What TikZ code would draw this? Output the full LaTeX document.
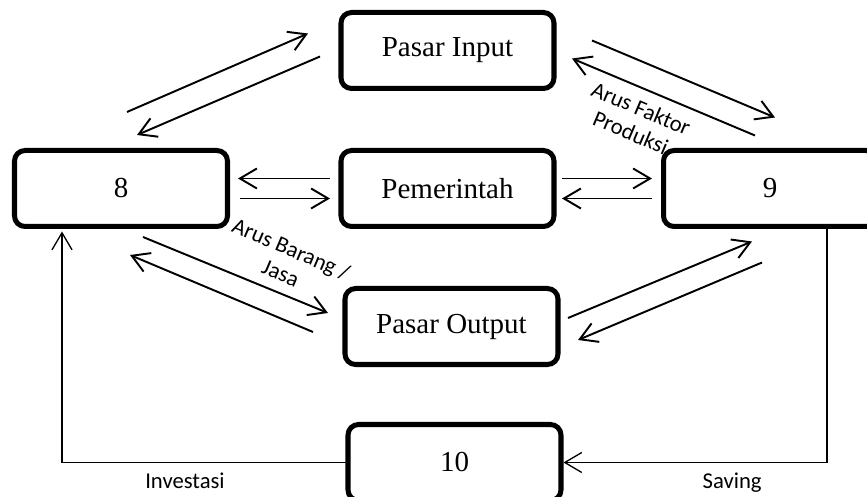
\documentclass[tikz,border=0pt]{standalone}
\usepackage{fontspec}
\setmainfont{Liberation Serif}
\newfontfamily\lblfont{Carlito}
\usepackage{tikz}
\usetikzlibrary{arrows.meta, positioning, calc}
\definecolor{mydark}{RGB}{0,0,0}
\tikzset{
  sector/.style={rectangle, draw=mydark, line width=2.85pt, rounded corners=6pt,
    minimum width=4.26cm, minimum height=1.52cm, inner sep=0pt, outer sep=0pt,
    font=\fontsize{16.5}{20}\selectfont},
  arrow/.style={-{Straight Barb[length=0.34cm, width=0.4cm]}, line width=1.1pt, color=mydark},
  flow/.style={-{Straight Barb[length=0.34cm, width=0.4cm]}, line width=0.75pt, color=mydark},
  lbl/.style={font=\lblfont\fontsize{12.9}{15}\selectfont, align=center, inner sep=1pt}
}

\begin{document}
\begin{tikzpicture}
  \useasboundingbox (0,0) rectangle (17.34,-9.94);

  % --- Sektor ---
  \node[sector] (n8) at (2.42,-3.77) {8};
  \node[sector, right=2.27cm of n8] (pem) {Pemerintah};
  \node[sector, right=2.19cm of pem] (n9) {9};
  \node[sector, above=1.24cm of pem] (pi) {Pasar Input};
  \node[sector, below=1.24cm of pem, xshift=0.08cm] (po) {Pasar Output};
  \node[sector, below=1.2cm of po, xshift=0.06cm] (n10) {10};

  % --- Pasar Input ---
  \draw[arrow] ([shift={(0.12,0.77)}]n8.north) -- ([shift={(-0.66,0.34)}]pi.west);
  \draw[arrow] ([shift={(-0.42,-0.12)}]pi.west) -- ([shift={(0.32,0.31)}]n8.north);
  \draw[arrow] ([shift={(0.76,0.2)}]pi.east) -- ([shift={(0.1,0.66)}]n9.north);
  \draw[arrow] ([shift={(-0.3,0.3)}]n9.north) -- ([shift={(0.36,-0.16)}]pi.east);
  \node[lbl, rotate=-23] (lblfaktor) at ([shift={(1.64,-1.4)}]pi.east) {Arus Faktor\\Produksi};

  % --- Pemerintah ---
  \draw[arrow] ([shift={(-0.22,0.2)}]pem.west) -- ([shift={(0.21,0.2)}]n8.east);
  \draw[arrow] ([shift={(0.25,-0.2)}]n8.east) -- ([shift={(-0.22,-0.2)}]pem.west);
  \draw[arrow] ([shift={(0.16,0.2)}]pem.east) -- ([shift={(-0.23,0.2)}]n9.west);
  \draw[arrow] ([shift={(-0.23,-0.2)}]n9.west) -- ([shift={(0.16,-0.2)}]pem.east);

  % --- Pasar Output ---
  \draw[arrow] ([shift={(0.44,-0.21)}]n8.south) -- ([shift={(-0.34,0.27)}]po.west);
  \draw[arrow] ([shift={(-0.64,-0.11)}]po.west) -- ([shift={(0.18,-0.57)}]n8.south);
  \draw[arrow] ([shift={(0.2,0.17)}]po.east) -- ([shift={(-0.36,-0.3)}]n9.south);
  \draw[arrow] ([shift={(-0.16,-0.72)}]n9.south) -- ([shift={(0.4,-0.27)}]po.east);
  \node[lbl, rotate=-23] (lblbarang) at ([shift={(-1.18,1.31)}]po.west) {Arus Barang /\\Jasa};

  % --- Saving / Investasi ---
  \draw[flow] ([xshift=1.14cm]n9.south) |- node[lbl, below=0.15cm, pos=0.68] (lblsave) {Saving} ([xshift=0.05cm]n10.east);
  \draw[flow] (n10.west) -| node[lbl, below=0.15cm, pos=0.285] (lblinv) {Investasi} ([shift={(-1.18,-0.1)}]n8.south);
\end{tikzpicture}
\end{document}
